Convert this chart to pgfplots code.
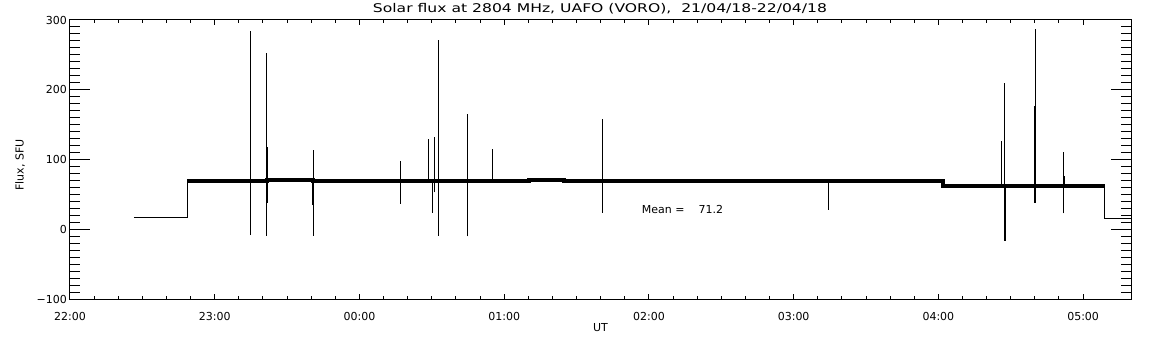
\documentclass[border=0pt]{standalone}
\usepackage{fontspec}
\setmainfont{DejaVu Sans}
\newfontfamily\titlefont[FakeStretch=1.3]{DejaVu Sans}
\usepackage{pgfplots}
\pgfplotsset{compat=1.18}
\begin{document}
\begin{tikzpicture}
\useasboundingbox (-70pt,-45.7pt) rectangle (1082pt,299.3pt);
\begin{axis}[
  at={(0pt,0pt)}, anchor=south west, scale only axis,
  width=1061pt, height=279.3pt,
  xmin=0, xmax=7.331, ymin=-100, ymax=300,
  axis line style={line width=1pt},
  ytick={-100,0,100,200,300},
  yticklabels={−100,0,100,200,300},
  minor y tick num=9,
  xtick=\empty,
  major tick length=20pt, minor tick length=10pt,
  tick style={line width=1pt, black},
  yticklabel style={font=\fontsize{11}{13}\selectfont, anchor=east, inner sep=0pt, xshift=-3pt},
  unbounded coords=jump,
]
% thin low-level segments
\addplot[black, line width=1pt, mark=none] coordinates {
 (0.441,17) (0.809,17) (0.809,69)
 (7.151,nan)
 (7.151,62) (7.151,16) (7.331,16)
};
% main flux band
\addplot[black, line width=4pt, mark=none, const plot] coordinates {
 (0.809,69) (1.36,71) (1.68,69.5) (3.17,70.5) (3.41,69.5) (6.033,62) (7.151,62)
};
% spikes
\addplot[black, line width=1pt, mark=none] coordinates {
 (1.244,-8) (1.244,284) (1.244,nan)
 (1.355,-9) (1.355,253) (1.355,nan)
 (1.679,-9) (1.679,114) (1.679,nan)
 (2.281,37) (2.281,98) (2.281,nan)
 (2.477,70) (2.477,130) (2.477,nan)
 (2.502,24) (2.502,70) (2.502,nan)
 (2.516,53) (2.516,133) (2.516,nan)
 (2.546,-9) (2.546,271) (2.546,nan)
 (2.747,-10) (2.747,165) (2.747,nan)
 (2.916,70) (2.916,115) (2.916,nan)
 (3.677,24) (3.677,158) (3.677,nan)
 (5.243,28) (5.243,70) (5.243,nan)
 (6.434,62) (6.434,127) (6.434,nan)
 (6.455,-16) (6.455,210) (6.455,nan)
 (6.669,38) (6.669,287) (6.669,nan)
 (6.863,23) (6.863,111)
};
% thicker spike parts
\addplot[black, line width=2pt, mark=none] coordinates {
 (1.36,38) (1.36,118) (1.36,nan)
 (1.681,35) (1.681,72) (1.681,nan)
 (6.457,-16) (6.457,62) (6.457,nan)
 (6.671,38) (6.671,177) (6.671,nan)
 (6.865,62) (6.865,77)
};
\end{axis}
\begin{axis}[
  at={(0pt,0pt)}, anchor=south west, scale only axis,
  width=1061pt, height=279.3pt,
  xmin=0, xmax=7.331, ymin=-100, ymax=300,
  axis line style={line width=1pt},
  ytick=\empty,
  xtick={0,1,2,3,4,5,6,7},
  xticklabels={22:00,23:00,00:00,01:00,02:00,03:00,04:00,05:00},
  minor x tick num=5,
  major tick length=5pt, minor tick length=3pt,
  tick style={line width=1pt, black},
  xticklabel style={font=\fontsize{11}{13}\selectfont, anchor=center, inner sep=0pt, yshift=-16.7pt},
]
\end{axis}
\node[font=\titlefont\fontsize{12}{14}\selectfont, inner sep=0pt] at (530pt,290.3pt) {Solar flux at 2804 MHz, UAFO (VORO),\ \ 21/04/18-22/04/18};
\node[font=\fontsize{11}{13}\selectfont, inner sep=0pt] at (530.5pt,-28.7pt) {UT};
\node[font=\fontsize{11}{13}\selectfont, inner sep=0pt, rotate=90] at (-50pt,134.3pt) {Flux, SFU};
\node[font=\fontsize{11}{13}\selectfont, inner sep=0pt, anchor=west] at (571.7pt,90.3pt) {Mean =\hspace{14pt}71.2};
\end{tikzpicture}
\end{document}
